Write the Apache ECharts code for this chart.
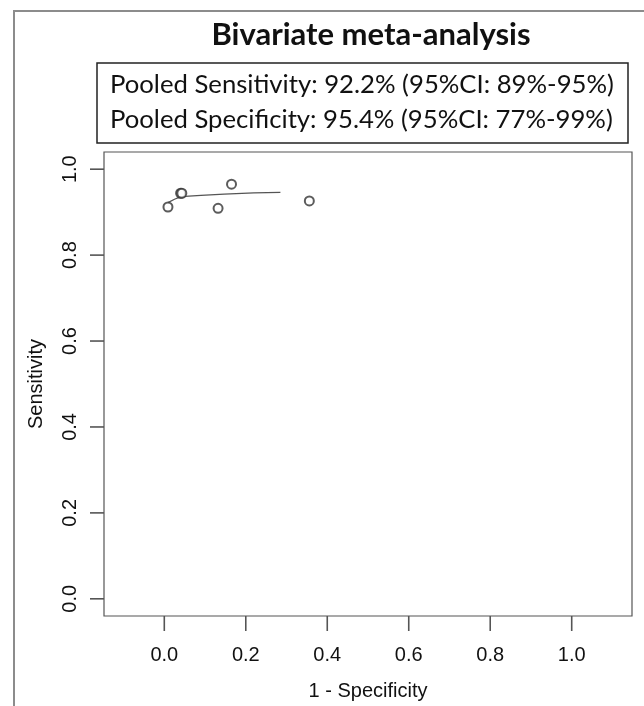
<!DOCTYPE html>
<html>
<head>
<meta charset="utf-8">
<script src="https://cdn.jsdelivr.net/npm/echarts@6/dist/echarts.min.js"></script>
<style>
  html, body { margin: 0; padding: 0; background: #fff; }
  #main { width: 644px; height: 706px; }
</style>
</head>
<body>
<div id="main"></div>
<script>
// study points (1 - specificity, sensitivity)
const studyFpr = [0.009, 0.040, 0.043, 0.132, 0.165, 0.356]
const studySens = [0.912, 0.944, 0.944, 0.909, 0.965, 0.926]

// SROC curve
const curveFpr = [0.009, 0.025, 0.041, 0.090, 0.147, 0.220, 0.285]
const curveSens = [0.922, 0.930, 0.936, 0.939, 0.942, 0.945, 0.946]

const xTicks = [0, 0.2, 0.4, 0.6, 0.8, 1.0]
const yTicks = [0, 0.2, 0.4, 0.6, 0.8, 1.0]

const legendLines = [
  'Pooled Sensitivity: 92.2% (95%CI: 89%-95%)',
  'Pooled Specificity: 95.4% (95%CI: 77%-99%)'
]

const X_MIN = -0.148, X_MAX = 1.148
const Y_MIN = -0.04, Y_MAX = 1.04

const chart = echarts.init(document.getElementById('main'))

const axisFont = 'Liberation Sans, Arial, sans-serif'
const boxFont = 'Lato, Open Sans, sans-serif'
const tickStyle = { stroke: '#555', lineWidth: 1.6 }

const option = {
  backgroundColor: '#fff',
  animation: false,
  title: {
    text: 'Bivariate meta-analysis',
    left: 366,
    top: 14,
    textAlign: 'center',
    textStyle: { fontFamily: boxFont, fontWeight: 'bold', fontSize: 31, color: '#111' }
  },
  grid: {
    left: 104, right: 12, top: 152, bottom: 90,
    show: true, borderColor: '#555', borderWidth: 1.2,
    outerBoundsMode: 'none'
  },
  xAxis: {
    type: 'value',
    min: X_MIN, max: X_MAX,
    name: '1 - Specificity',
    nameLocation: 'middle',
    nameGap: 65,
    nameTextStyle: { fontFamily: axisFont, fontSize: 20, color: '#111' },
    axisLine: { show: false, onZero: false },
    splitLine: { show: false },
    axisTick: { show: false },
    axisLabel: {
      customValues: xTicks, margin: 29,
      fontFamily: axisFont, fontSize: 20, color: '#111',
      formatter: v => v.toFixed(1)
    }
  },
  yAxis: {
    type: 'value',
    min: Y_MIN, max: Y_MAX,
    name: 'Sensitivity',
    nameLocation: 'middle',
    nameRotate: 90,
    nameGap: 58,
    nameTextStyle: { fontFamily: axisFont, fontSize: 20, color: '#111' },
    axisLine: { show: false, onZero: false },
    splitLine: { show: false },
    axisTick: { show: false },
    axisLabel: {
      customValues: yTicks, margin: 24, rotate: 90,
      fontFamily: axisFont, fontSize: 20, color: '#111',
      formatter: v => v.toFixed(1)
    }
  },
  graphic: [
    {
      type: 'rect', silent: true, z: -1,
      shape: { x: 14, y: 11, width: 700, height: 800 },
      style: { fill: 'none', stroke: '#8c8c8c', lineWidth: 2 }
    },
    {
      type: 'rect', silent: true,
      shape: { x: 97, y: 63, width: 531, height: 80 },
      style: { fill: '#fff', stroke: '#222', lineWidth: 1.5 }
    },
    {
      type: 'text', silent: true, x: 110, y: 85,
      style: { text: legendLines[0], font: '25.7px ' + boxFont, fill: '#111', textVerticalAlign: 'middle' }
    },
    {
      type: 'text', silent: true, x: 110, y: 120,
      style: { text: legendLines[1], font: '25.7px ' + boxFont, fill: '#111', textVerticalAlign: 'middle' }
    }
  ],
  series: [
    {
      type: 'line',
      data: curveFpr.map((x, i) => [x, curveSens[i]]),
      showSymbol: false,
      lineStyle: { color: '#555', width: 1.3 },
      z: 2
    },
    {
      type: 'scatter',
      data: studyFpr.map((x, i) => [x, studySens[i]]),
      symbol: 'emptyCircle',
      symbolSize: 9,
      itemStyle: { color: '#333', borderColor: '#333', borderWidth: 1.2 },
      z: 3
    }
  ]
}

chart.setOption(option)

// R-style outward ticks, placed with the chart's own axis scales
const tickLines = []
xTicks.forEach(v => {
  const p = chart.convertToPixel({ gridIndex: 0 }, [v, Y_MIN])
  tickLines.push({ type: 'line', silent: true, z: 100, shape: { x1: p[0], y1: p[1], x2: p[0], y2: p[1] + 15 }, style: tickStyle })
})
yTicks.forEach(v => {
  const p = chart.convertToPixel({ gridIndex: 0 }, [X_MIN, v])
  tickLines.push({ type: 'line', silent: true, z: 100, shape: { x1: p[0], y1: p[1], x2: p[0] - 14, y2: p[1] }, style: tickStyle })
})
chart.setOption({ graphic: option.graphic.concat(tickLines) })
</script>
</body>
</html>
